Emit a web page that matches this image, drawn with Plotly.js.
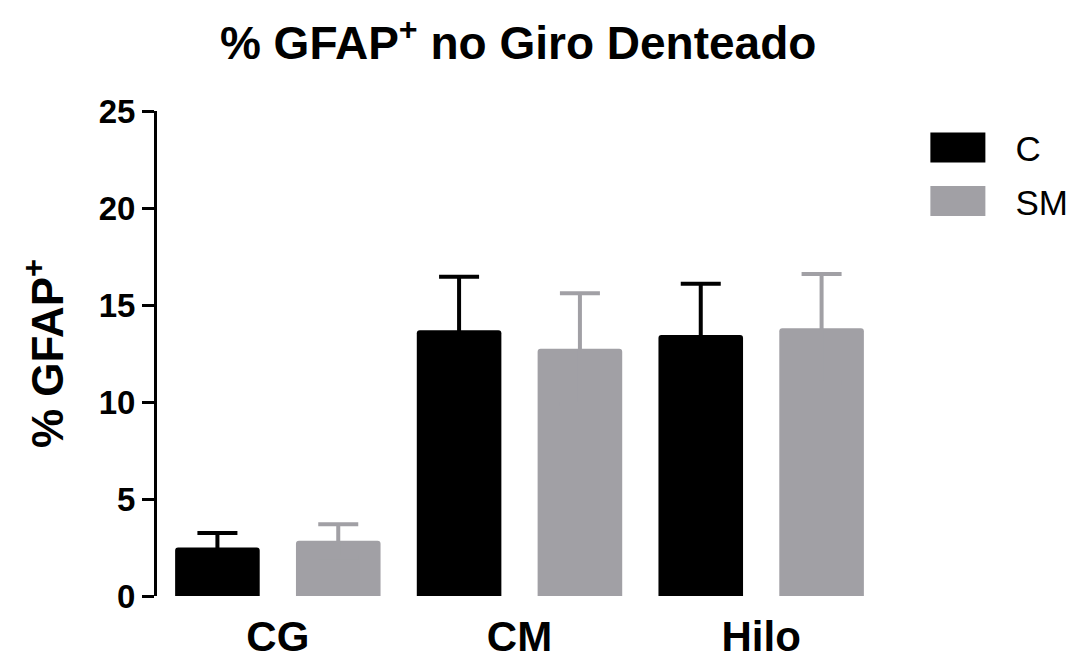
<!DOCTYPE html>
<html>
<head>
<meta charset="utf-8">
<script src="https://cdn.plot.ly/plotly-3.0.1.min.js"></script>
<style>html,body{margin:0;padding:0;background:#fff;}#chart{width:1075px;height:659px;}</style>
</head>
<body>
<div id="chart"></div>
<script>
var categories = ['CG', 'CM', 'Hilo'];
var seriesNames = ['C', 'SM'];
var valuesC = [2.5, 13.7, 13.45];
var errorC = [0.75, 2.75, 2.65];
var valuesSM = [2.85, 12.75, 13.8];
var errorSM = [0.85, 2.85, 2.8];
var yTicks = [0, 5, 10, 15, 20, 25];
var colors = ['#000000', '#a1a0a5'];

var FONT = 'Liberation Sans, Arial, sans-serif';

function barTrace(name, vals, errs, color) {
  return {
    type: 'bar', name: name, x: categories, y: vals, legendgroup: name,
    marker: {color: color, cornerradius: 3, line: {width: 0}},
    error_y: {type: 'data', array: errs, symmetric: true, color: color, thickness: 4, width: 20},
    hoverinfo: 'skip'
  };
}

var data = [
  barTrace(seriesNames[0], valuesC, errorC, colors[0]),
  barTrace(seriesNames[1], valuesSM, errorSM, colors[1])
];

var layout = {
  width: 1075, height: 659,
  margin: {l: 157, r: 193, t: 111, b: 63},
  paper_bgcolor: '#ffffff', plot_bgcolor: '#ffffff',
  barmode: 'group', bargap: 0, bargroupgap: 0.3,
  title: {text: '% GFAP<sup>+</sup> no Giro Denteado', x: 0.482, xanchor: 'center', y: 0.935, yanchor: 'middle',
          font: {family: FONT, size: 46, color: '#000', weight: 'bold'}},
  xaxis: {
    showline: false, ticks: '', showgrid: false, zeroline: false,
    tickfont: {family: FONT, size: 42, color: '#000', weight: 'bold'},
    ticklabelstandoff: 12,
    range: [-0.5, 2.5], fixedrange: true
  },
  yaxis: {
    range: [0, 25], tickvals: yTicks, ticktext: yTicks.map(String),
    showline: true, linecolor: '#000', linewidth: 3,
    ticks: 'outside', ticklen: 12, tickwidth: 3, tickcolor: '#000',
    showgrid: false, zeroline: false,
    tickfont: {family: FONT, size: 33, color: '#000', weight: 'bold'},
    title: {text: '% GFAP<sup>+</sup>', standoff: 22, font: {family: FONT, size: 44, color: '#000', weight: 'bold'}},
    fixedrange: true
  },
  showlegend: true,
  legend: {x: 1.0557, xanchor: 'left', y: 0.985, yanchor: 'top', bgcolor: 'rgba(0,0,0,0)',
           font: {family: FONT, size: 35, color: '#000'}, itemwidth: 60, tracegroupgap: 5, traceorder: 'grouped'}
};

Plotly.newPlot('chart', data, layout, {displayModeBar: false, staticPlot: true}).then(function(gd) {
  gd.querySelectorAll('.legend [clip-path]').forEach(function(el) {
    el.removeAttribute('clip-path');
  });
  gd.querySelectorAll('.legend .legendpoints path').forEach(function(p) {
    p.setAttribute('d', 'M-27,-15H28V15H-27Z');
  });
  gd.querySelectorAll('.legend .legendtext').forEach(function(t) {
    var x = parseFloat(t.getAttribute('x')) || 0;
    t.setAttribute('x', x + 23);
  });
});
</script>
</body>
</html>
